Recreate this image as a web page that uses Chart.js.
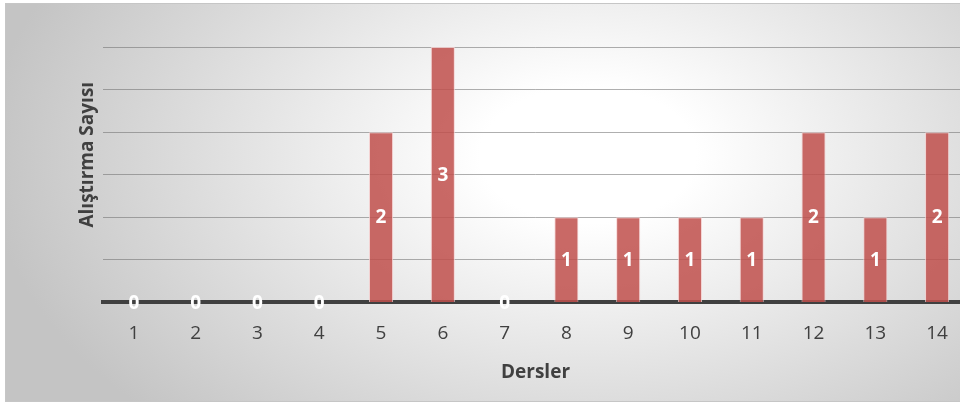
<!DOCTYPE html>
<html>
<head>
<meta charset="utf-8">
<script src="https://cdn.jsdelivr.net/npm/chart.js@4.4.1/dist/chart.umd.min.js"></script>
<style>
  html, body { margin: 0; padding: 0; background: #fff; overflow: hidden; }
  #box {
    position: absolute; left: 5px; top: 3px;
    width: 970px; height: 397px;
    border: 1px solid #c6c6c6;
    background: radial-gradient(ellipse 62% 95% at 60% 38%, #ffffff 18%, #c4c4c4 100%);
  }
</style>
</head>
<body>
<div id="box"><canvas id="myChart"></canvas></div>
<script>
// lessons and exercise counts
const dersler = ['1', '2', '3', '4', '5', '6', '7', '8', '9', '10', '11', '12', '13', '14'];
const alistirmaSayisi = [0, 0, 0, 0, 2, 3, 0, 1, 1, 1, 1, 2, 1, 2];
const xTitle = 'Dersler';
const yTitle = 'Alıştırma Sayısı';

const FONT = "'Open Sans', sans-serif";

// white value labels in the middle of each bar
const barLabels = {
  id: 'barLabels',
  afterDatasetsDraw(chart) {
    const ctx = chart.ctx;
    const meta = chart.getDatasetMeta(0);
    ctx.save();
    ctx.fillStyle = '#ffffff';
    ctx.font = 'bold 19px ' + FONT;
    ctx.textAlign = 'center';
    ctx.textBaseline = 'middle';
    meta.data.forEach((bar, i) => {
      const y = (bar.y + bar.base) / 2;
      ctx.fillText(String(alistirmaSayisi[i]), bar.x, y + 1);
    });
    ctx.restore();
  }
};

// y title sits a bit above the middle, like the original
const sideTitle = {
  id: 'sideTitle',
  afterDraw(chart) {
    const a = chart.chartArea;
    const ctx = chart.ctx;
    ctx.save();
    ctx.translate(a.left - 15, (a.top + a.bottom) / 2 - 20);
    ctx.rotate(-Math.PI / 2);
    ctx.fillStyle = '#404040';
    ctx.font = 'bold 19px ' + FONT;
    ctx.textAlign = 'center';
    ctx.textBaseline = 'middle';
    ctx.fillText(yTitle, 0, 0);
    ctx.restore();
  }
};

const data = {
  labels: dersler,
  datasets: [{
    data: alistirmaSayisi,
    backgroundColor: 'rgba(192, 80, 77, 0.86)',
    borderColor: 'rgba(245, 205, 205, 0.8)',
    borderWidth: 1,
    barPercentage: 0.39,
    categoryPercentage: 1
  }]
};

const config = {
  type: 'bar',
  data,
  options: {
    responsive: false,
    animation: false,
    layout: { padding: { left: 97, top: 43, right: 8, bottom: 17 } },
    plugins: {
      legend: { display: false },
      tooltip: { enabled: false }
    },
    scales: {
      x: {
        grid: { display: false, drawTicks: false },
        border: { color: '#404040', width: 4 },
        ticks: {
          color: '#404040',
          font: { family: FONT, size: 19 },
          padding: 20,
          maxRotation: 0
        },
        title: {
          display: true,
          text: xTitle,
          color: '#404040',
          font: { family: FONT, size: 19, weight: 'bold' },
          padding: { top: -4, bottom: 0 }
        }
      },
      y: {
        min: 0,
        max: 3,
        ticks: { display: false, stepSize: 0.5 },
        grid: { color: 'rgba(110, 110, 110, 0.55)', lineWidth: 1, drawTicks: false },
        border: { display: false }
      }
    }
  },
  plugins: [barLabels, sideTitle]
};

const cv = document.getElementById('myChart');
cv.width = 970;
cv.height = 397;
new Chart(cv, config);
</script>
</body>
</html>
